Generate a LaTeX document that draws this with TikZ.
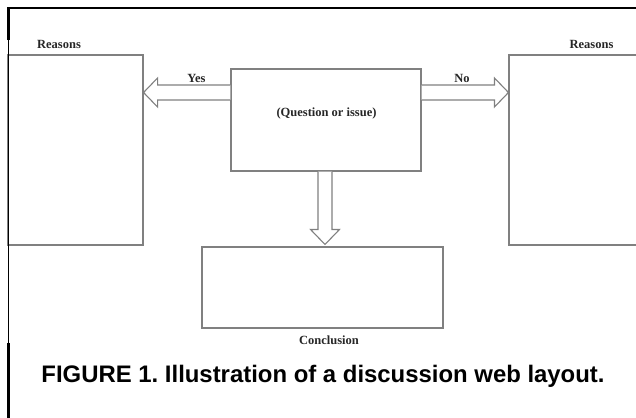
\documentclass[tikz,border=0pt]{standalone}
\usepackage{fontspec}
\setmainfont{Liberation Serif}
\newfontfamily\capfont{Liberation Sans}
\usetikzlibrary{calc}
\frenchspacing

\begin{document}
\begin{tikzpicture}[x=1pt,y=-1pt,
        box/.style={draw=black!50,line width=1.1pt,inner sep=0pt},
        lbl/.style={anchor=base,inner sep=0pt,text=black!85,
                font=\fontsize{12.5}{14}\selectfont\bfseries},
        blockarrow/.style={draw=black!50,line width=1.1pt,fill=white,line join=miter}]
        \useasboundingbox (0,0) rectangle (636,417);
        \clip (0,0) rectangle (636,417);
        % boxes
        \node[box,minimum width=135pt,minimum height=190pt] (lreas) at (75.5,150) {};
        \node[box,minimum width=140pt,minimum height=190pt] (rreas) at (579,150) {};
        \node[box,minimum width=190pt,minimum height=102pt] (quest) at (326,120) {};
        \node[box,minimum width=241pt,minimum height=81pt] (concl) at (322.5,287.5) {};
        % texts
        \node[lbl] (lrtxt) at (59,49) {Reasons};
        \node[lbl] (rrtxt) at (591.5,49) {Reasons};
        \node[lbl] (yes) at (196.5,83) {Yes};
        \node[lbl] (no) at (462,83) {No};
        \node[lbl] (qtxt) at (326.5,116) {(Question or issue)};
        \node[lbl] (ctxt) at (329,344) {Conclusion};
        % yes arrow
        \coordinate (yt) at ($(quest.west)+(0,-27.5)$);
        \coordinate (yh) at (lreas.east |- yt);
        \draw[blockarrow] ($(yt)+(0,-7.5)$) -- ($(yh)+(14,-7.5)$) -- ($(yh)+(14,-14.5)$) -- (yh)
                -- ($(yh)+(14,14.5)$) -- ($(yh)+(14,7.5)$) -- ($(yt)+(0,7.5)$);
        % no arrow
        \coordinate (nt) at ($(quest.east)+(0,-27.5)$);
        \coordinate (nh) at (rreas.west |- nt);
        \draw[blockarrow] ($(nt)+(0,-7.5)$) -- ($(nh)+(-14,-7.5)$) -- ($(nh)+(-14,-14.5)$) -- (nh)
                -- ($(nh)+(-14,14.5)$) -- ($(nh)+(-14,7.5)$) -- ($(nt)+(0,7.5)$);
        % down arrow
        \coordinate (dt) at ($(quest.south)+(-1,0)$);
        \coordinate (dh) at ($(dt |- concl.north)+(0,-2)$);
        \draw[blockarrow] ($(dt)+(-7,0)$) -- ($(dh)+(-7,-15)$) -- ($(dh)+(-14.5,-15)$) -- (dh)
                -- ($(dh)+(14.5,-15)$) -- ($(dh)+(7,-15)$) -- ($(dt)+(7,0)$);
        % frame
        \draw[line width=2.5pt] (8.5,40) -- (8.5,8) -- (640,8);
        \draw[line width=1.4pt] (8.5,40) -- (8.5,343);
        \draw[line width=2.5pt] (8.5,343) -- (8.5,420);
        % caption
        \node[anchor=base,inner sep=0pt,font=\capfont\bfseries\fontsize{23.9}{26}\selectfont] (cap) at (323,382)
                {FIGURE 1. Illustration of a discussion web layout.};
\end{tikzpicture}
\end{document}
